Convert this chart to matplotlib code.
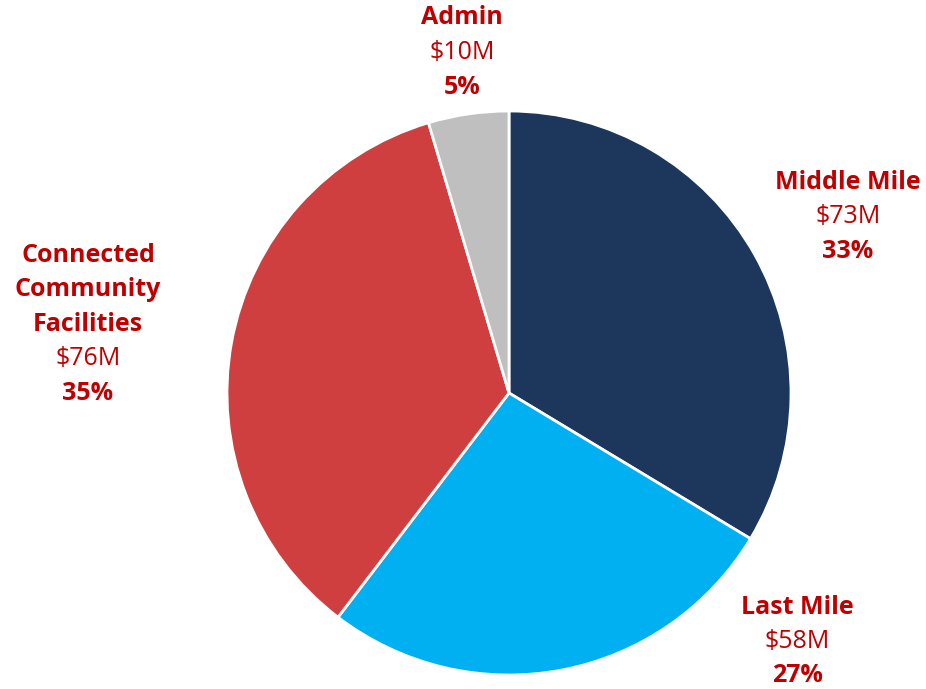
import matplotlib.pyplot as plt

# Budget split (millions of dollars)
categories = ['Middle Mile', 'Last Mile', 'Connected\nCommunity\nFacilities', 'Admin']
amounts = [73, 58, 76, 10]
percents = ['33%', '27%', '35%', '5%']
colors = ['#1d365c', '#00b0f0', '#d03f3f', '#bfbfbf']

# label anchor (pixel centre of the first line) for each slice
label_pos = [(848, 182), (797, 607), (88, 255), (462, 18)]

W, H = 926, 689
cx, cy, r = 509, 393, 282

fig = plt.figure(figsize=(W / 100, H / 100), dpi=100)
ax = fig.add_axes([0, 0, 1, 1])
ax.pie(amounts, colors=colors, startangle=90, counterclock=False, radius=1,
       wedgeprops=dict(edgecolor='white', linewidth=2))
ax.set_xlim(-cx / r, (W - cx) / r)
ax.set_ylim((cy - H) / r, cy / r)
ax.set_aspect('auto')
ax.axis('off')

red = '#c00000'
step = 34.5
font = 'Open Sans'
for cat, amt, pct, (px, py) in zip(categories, amounts, percents, label_pos):
    lines = cat.split('\n')
    y = py
    for ln in lines:
        ax.text((px - cx) / r, (cy - y) / r, ln, ha='center', va='center',
                fontsize=18, fontweight='bold', color=red, family=font)
        y += step
    ax.text((px - cx) / r, (cy - y) / r, '$%dM' % amt, ha='center', va='center',
            fontsize=18, color=red, family=font)
    y += step
    ax.text((px - cx) / r, (cy - y) / r, pct, ha='center', va='center',
            fontsize=18, fontweight='bold', color=red, family=font)

fig.savefig('out.png', dpi=100)
